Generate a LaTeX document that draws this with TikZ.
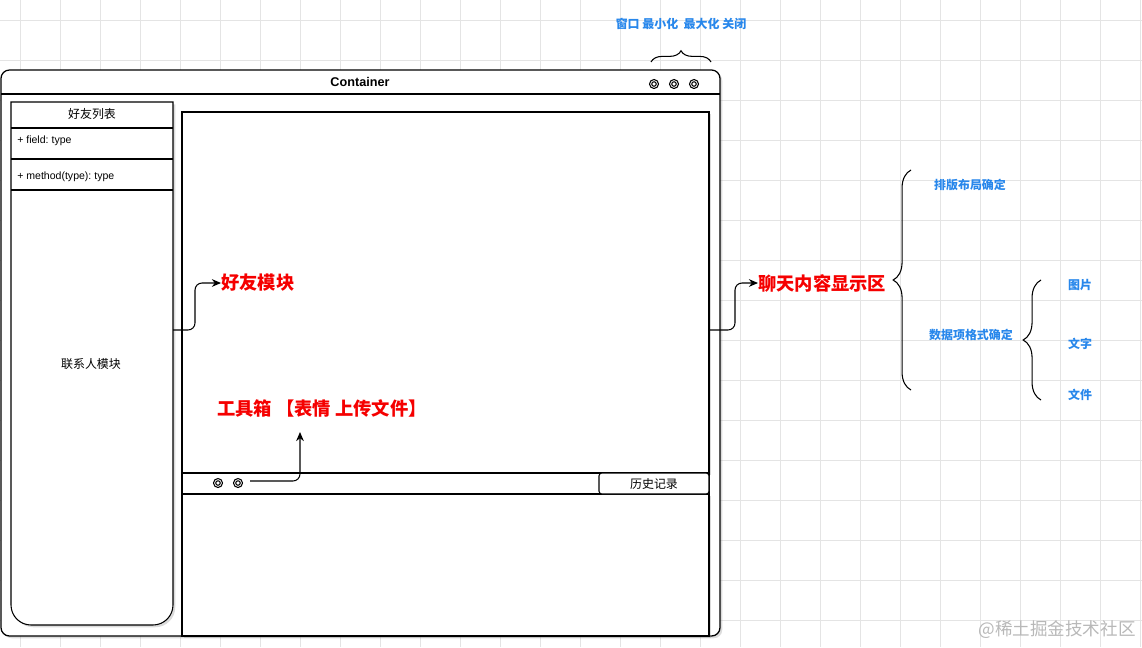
\documentclass[tikz,border=0pt]{standalone}
\usepackage{fontspec}
\setmainfont{Liberation Sans}
\newfontfamily\cjk{Noto Sans CJK SC}
\usetikzlibrary{positioning,arrows.meta,shadows,decorations.pathreplacing}
\definecolor{gridgray}{RGB}{228,228,228}
\definecolor{hotred}{RGB}{245,0,0}
\definecolor{tipblue}{RGB}{40,135,235}
\tikzset{
  gridline/.style={gridgray,line width=0.5pt},
  frame/.style={draw=black,fill=white,line width=0.75pt},
  shadowed/.style={drop shadow={shadow xshift=1.6pt,shadow yshift=-1.6pt,opacity=.28}},
  knob/.style={draw=black,line width=0.75pt},
  titletext/.style={font=\bfseries\fontsize{9}{11}\selectfont,inner sep=0pt},
  membertext/.style={font=\frenchspacing\fontsize{7.5}{9}\selectfont,inner sep=0pt,anchor=west},
  plaintext/.style={font=\cjk\fontsize{8.5}{10}\selectfont,inner sep=0pt},
  hotlabel/.style={font=\cjk\bfseries\fontsize{13}{15}\selectfont,text=hotred,inner sep=0pt},
  tiplabel/.style={font=\cjk\bfseries\fontsize{8.5}{10}\selectfont,text=tipblue,inner sep=0pt},
  pointer/.style={-{Stealth[length=6.5pt,width=5.5pt]},line width=0.75pt,rounded corners=5pt},
  curly/.style={decorate,decoration={brace,amplitude=#1},line width=0.75pt},
}

\begin{document}
\begin{tikzpicture}[x=0.025cm,y=-0.025cm]
\useasboundingbox (0,0) rectangle (1142,647);
% grid
\foreach \gx in {20,60,...,1140} \draw[gridline] (\gx+0.5,0) -- (\gx+0.5,647);
\foreach \gy in {20,60,...,620} \draw[gridline] (0,\gy+0.5) -- (1142,\gy+0.5);
% container window
\draw[frame,shadowed,line width=0.9pt,rounded corners=6pt] (1,70) rectangle (720,636);
\draw[line width=0.9pt] (1,94) -- (720,94);
\node[titletext] (cont) at (360,82) {Container};
\foreach \bx in {654,674,694}
  \draw[knob] (\bx,84) circle[radius=3.2pt] circle[radius=1.6pt];
\draw[curly=8pt] (651,62) -- (711,62);
\node[tiplabel] (winctl) at (681,24) {窗口 最小化\ \ 最大化 关闭};
% friend list
\draw[frame,shadowed] (11,102) -- (173,102) -- (173,605) .. controls (173,616) and (164,625) .. (153,625)
  -- (31,625) .. controls (20,625) and (11,616) .. (11,605) -- cycle;
\draw[line width=0.75pt] (11,128) -- (173,128) (11,159) -- (173,159) (11,190) -- (173,190);
\node[plaintext] (flist) at (92,114) {好友列表};
\node[membertext] (field) at (17,141) {+ field: type};
\node[membertext] (method) at (17,177) {+ method(type): type};
\node[plaintext] (contacts) at (91,364) {联系人模块};
% chat area
\draw[frame,shadowed] (182,112) rectangle (709,473);
\draw[frame,shadowed] (182,494) rectangle (709,636);
\draw[frame,line width=1pt] (182,473) rectangle (709,494);
\draw[frame,rounded corners=2pt] (599,473) rectangle (709,494);
\node[plaintext] (history) at (654,483.5) {历史记录};
\foreach \bx in {218,238}
  \draw[knob] (\bx,483) circle[radius=3.2pt] circle[radius=1.6pt];
% labels
\node[hotlabel,anchor=west] (friendmod) at (221,283) {好友模块};
\node[hotlabel,anchor=west] (chatshow) at (758,283) {聊天内容显示区};
\node[hotlabel] (toolbox) at (322,408) {工具箱 【表情 上传文件】};
\coordinate (friendout) at (173,330);
\coordinate (chatout) at (709,330);
\coordinate (toolout) at (250,481);
\coordinate (tooltip) at (300,432);
\draw[pointer] (friendout) -- ++(22,0) |- (friendmod.west);
\draw[pointer] (chatout) -- ++(26,0) |- (chatshow.west);
\draw[pointer] (toolout) -| (tooltip);
% braces
\draw[curly=12.7pt] (911,390) -- (911,170);
\node[tiplabel] (layout) at (970,185) {排版布局确定};
\node[tiplabel] (format) at (971,335) {数据项格式确定};
\draw[curly=12.7pt] (1041,400) -- (1041,280);
\node[tiplabel] (pic) at (1080,285) {图片};
\node[tiplabel] (txt) at (1080,344) {文字};
\node[tiplabel] (doc) at (1080,395) {文件};
% watermark
\node[font=\cjk\fontsize{12.5}{14}\selectfont,text=black!28,inner sep=0pt] (mark) at (1057,630) {@稀土掘金技术社区};
\end{tikzpicture}
\end{document}
